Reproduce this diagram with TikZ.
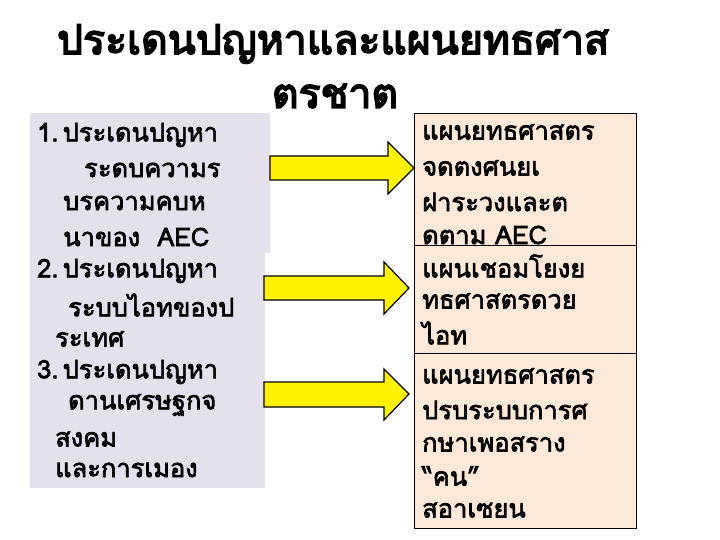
\documentclass[tikz,border=0pt]{standalone}
\usepackage{fontspec}
\newfontfamily\thaifont[Script=Thai,FakeBold=2.5]{Loma}
\newfontfamily\thaititle[Script=Thai,FakeBold=4]{Loma}
\usetikzlibrary{shapes.arrows}
\begin{document}
\begin{tikzpicture}[x=1pt,y=-1pt,
  txt/.style={anchor=west,inner sep=0pt,font=\thaifont\fontsize{25.5}{28}\selectfont},
  ttl/.style={inner sep=0pt,font=\thaititle\fontsize{41}{44}\selectfont},
  rbox/.style={fill=peach,draw=black,line width=0.8pt},
  yarrow/.style={fill=yellow,draw=black,line width=1.2pt,line join=miter}]
\definecolor{lav}{HTML}{E4E0EC}
\definecolor{peach}{HTML}{FCE9DA}
\useasboundingbox (0,0) rectangle (720,540);
\node[ttl] (t1) at (333,44) {ประเดนปญหาและแผนยทธศาส};
\node[ttl] (t2) at (335,96) {ตรชาต};
\fill[lav] (30,113) rectangle (270,253);
\fill[lav] (30,253) rectangle (265,488);
\draw[rbox] (414,113) rectangle (636,245);
\draw[rbox] (414,245) rectangle (636,353);
\draw[rbox] (414,353) rectangle (636,528);
\draw[yarrow] (270,156) -- (388,156) -- (388,142) -- (414,168) -- (388,194) -- (388,180) -- (270,180) -- cycle;
\draw[yarrow] (264,276) -- (384,276) -- (384,262) -- (409,288) -- (384,314) -- (384,300) -- (264,300) -- cycle;
\draw[yarrow] (264,382) -- (384,382) -- (384,369) -- (409,394) -- (384,420) -- (384,407) -- (264,407) -- cycle;
\node[txt] (l1) at (37,135) {1.\,ประเดนปญหา};
\node[txt] (l2) at (84,170) {ระดบความร};
\node[txt] (l3) at (63,203) {บรความคบห};
\node[txt] (l4) at (63,237) {นาของ\ \ AEC};
\node[txt] (l5) at (37,271) {2.\,ประเดนปญหา};
\node[txt] (l6) at (68,305) {ระบบไอทของป};
\node[txt] (l7) at (55,339) {ระเทศ};
\node[txt] (l8) at (37,372) {3.\,ประเดนปญหา};
\node[txt] (l9) at (68,405) {ดานเศรษฐกจ};
\node[txt] (l10) at (55,439) {สงคม};
\node[txt] (l11) at (55,470) {และการเมอง};
\node[txt] (r1) at (422,132) {แผนยทธศาสตร};
\node[txt] (r2) at (422,168) {จดตงศนยเ};
\node[txt] (r3) at (422,202) {ฝาระวงและต};
\node[txt] (r4) at (422,235) {ดตาม AEC};
\node[txt] (r5) at (422,266) {แผนเชอมโยงย};
\node[txt] (r6) at (422,301) {ทธศาสตรดวย};
\node[txt] (r7) at (422,333) {ไอท};
\node[txt] (r8) at (422,376) {แผนยทธศาสตร};
\node[txt] (r9) at (422,410) {ปรบระบบการศ};
\node[txt] (r10) at (422,444) {กษาเพอสราง};
\node[txt] (r11) at (422,476) {“คน”};
\node[txt] (r12) at (422,510) {สอาเซยน};
\end{tikzpicture}
\end{document}
